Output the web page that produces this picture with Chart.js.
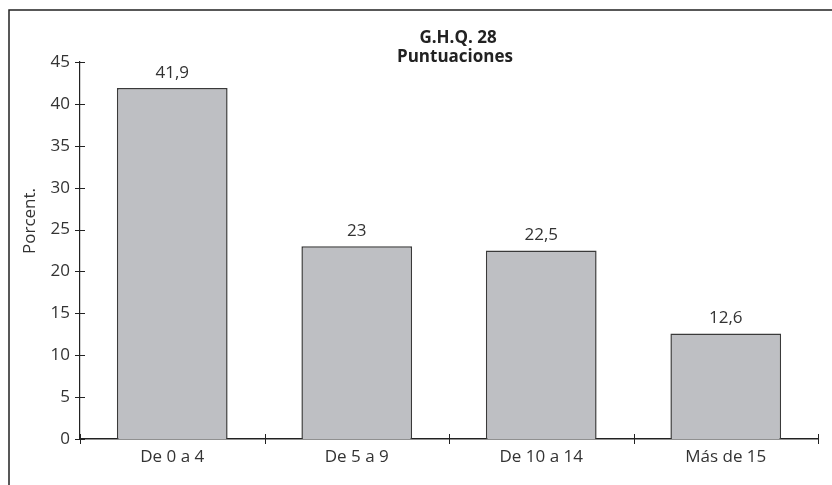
<!DOCTYPE html>
<html>
<head>
<meta charset="utf-8">
<script src="https://cdn.jsdelivr.net/npm/chart.js@4/dist/chart.umd.min.js"></script>
<style>
  html, body { margin: 0; padding: 0; background: #fff; }
  #wrap { width: 832px; height: 485px; position: relative; }
</style>
</head>
<body>
<div id="wrap"><canvas id="c" width="832" height="485"></canvas></div>
<script>
const categories = ['De 0 a 4', 'De 5 a 9', 'De 10 a 14', 'Más de 15'];
const porcentajes = [41.9, 23, 22.5, 12.6];
const valueLabels = ['41,9', '23', '22,5', '12,6'];
const titleLines = ['G.H.Q. 28', 'Puntuaciones'];
const yAxisTitle = 'Porcent.';

const FONT = '"Open Sans", "Noto Sans", sans-serif';
const INK = '#333333';

// Frame (top and left edges), title, axis title, cross ticks and value labels
const decor = {
  id: 'decor',
  beforeDraw(chart) {
    const ctx = chart.ctx;
    ctx.save();
    ctx.strokeStyle = '#222';
    ctx.lineWidth = 1.5;
    ctx.beginPath();
    ctx.moveTo(9, 490);
    ctx.lineTo(9, 10);
    ctx.lineTo(840, 10);
    ctx.stroke();
    ctx.restore();
  },
  afterDraw(chart) {
    const ctx = chart.ctx;
    const x = chart.scales.x, y = chart.scales.y;
    const area = chart.chartArea;
    ctx.save();
    ctx.strokeStyle = '#222';
    ctx.lineWidth = 1;
    // y ticks crossing the axis
    for (const t of y.ticks) {
      const py = Math.round(y.getPixelForValue(t.value)) + 0.5;
      ctx.beginPath();
      ctx.moveTo(area.left - 5, py);
      ctx.lineTo(area.left + 5, py);
      ctx.stroke();
    }
    // x ticks at category boundaries
    const step = (area.right - area.left) / categories.length;
    for (let i = 0; i <= categories.length; i++) {
      const px = Math.round(area.left + i * step) + 0.5;
      ctx.beginPath();
      ctx.moveTo(px, area.bottom - 5);
      ctx.lineTo(px, area.bottom + 5);
      ctx.stroke();
    }
    // value labels above bars
    ctx.fillStyle = INK;
    ctx.font = '17px ' + FONT;
    ctx.textAlign = 'center';
    ctx.textBaseline = 'middle';
    const meta = chart.getDatasetMeta(0);
    meta.data.forEach((bar, i) => {
      ctx.fillText(valueLabels[i], bar.x, bar.y - 15);
    });
    // y axis title
    ctx.save();
    ctx.translate(30, 221);
    ctx.rotate(-Math.PI / 2);
    ctx.fillText(yAxisTitle, 0, 0);
    ctx.restore();
    // title
    ctx.font = 'bold 17px ' + FONT;
    ctx.fillStyle = '#222';
    ctx.fillText(titleLines[0], 458, 38);
    ctx.fillText(titleLines[1], 455, 57);
    ctx.restore();
  }
};

new Chart(document.getElementById('c'), {
  type: 'bar',
  data: {
    labels: categories,
    datasets: [{
      data: porcentajes,
      backgroundColor: '#bebfc3',
      borderColor: '#3a3a3a',
      borderWidth: 1.5,
      categoryPercentage: 1,
      barPercentage: 0.6
    }]
  },
  options: {
    responsive: false,
    animation: false,
    devicePixelRatio: 1,
    layout: { padding: { top: 62, right: 14, left: 0, bottom: 0 } },
    plugins: { legend: { display: false }, tooltip: { enabled: false }, title: { display: false } },
    scales: {
      x: {
        grid: { display: false, drawTicks: false },
        border: { display: true, color: '#222', width: 1.5 },
        ticks: { color: INK, font: { family: FONT, size: 17 }, padding: 8 },
        afterFit(s) { s.height = 46; }
      },
      y: {
        min: 0, max: 45,
        grid: { display: false, drawTicks: false },
        border: { display: true, color: '#222', width: 1.2 },
        ticks: { stepSize: 5, color: INK, font: { family: FONT, size: 17 }, padding: 10 },
        afterFit(s) { s.width = 80; }
      }
    }
  },
  plugins: [decor]
});
</script>
</body>
</html>
